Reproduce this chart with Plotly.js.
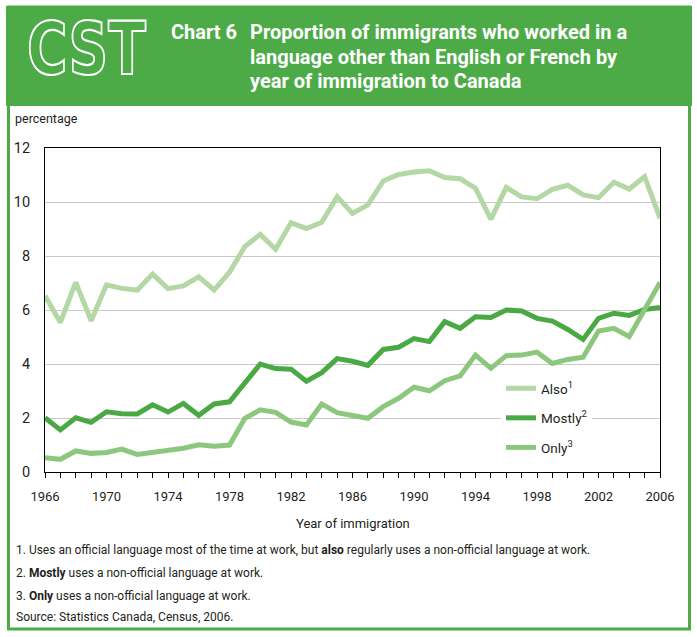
<!DOCTYPE html>
<html>
<head>
<meta charset="utf-8">
<script src="https://cdn.plot.ly/plotly-3.0.1.min.js"></script>
<style>
  html, body { margin: 0; padding: 0; background: #fff; }
  #wrap { position: relative; width: 697px; height: 637px; }
  #chart { position: absolute; left: 0; top: 0; width: 697px; height: 637px; }
  #logo { position: absolute; left: 20px; top: 10px; pointer-events: none; overflow: visible; }
</style>
</head>
<body>
<div id="wrap">
  <div id="chart"></div>
  <svg id="logo" width="135" height="75">
    <text transform="translate(7,64) scale(0.755,1)" x="0" y="0" font-family="DejaVu Sans" font-weight="bold" font-size="73"
          fill="none" stroke="#ffffff" stroke-width="2.2">CST</text>
  </svg>
</div>
<script>
// ---- data ----
const years = [1966,1967,1968,1969,1970,1971,1972,1973,1974,1975,1976,1977,1978,1979,1980,1981,1982,1983,1984,1985,1986,1987,1988,1989,1990,1991,1992,1993,1994,1995,1996,1997,1998,1999,2000,2001,2002,2003,2004,2005,2006];
const alsoVals = [6.53,5.54,7.02,5.60,6.93,6.80,6.74,7.33,6.79,6.89,7.23,6.74,7.40,8.35,8.80,8.25,9.23,9.02,9.25,10.20,9.58,9.89,10.78,11.02,11.11,11.16,10.91,10.86,10.51,9.36,10.54,10.19,10.12,10.47,10.62,10.26,10.16,10.73,10.48,10.94,9.40];
const mostlyVals = [2.01,1.56,2.01,1.84,2.23,2.16,2.15,2.49,2.22,2.54,2.10,2.52,2.60,3.28,4.00,3.83,3.81,3.36,3.68,4.20,4.10,3.95,4.54,4.62,4.94,4.83,5.57,5.32,5.75,5.72,6.00,5.96,5.69,5.59,5.28,4.91,5.69,5.88,5.80,6.02,6.09];
const onlyVals = [0.53,0.47,0.78,0.69,0.72,0.85,0.65,0.73,0.81,0.88,1.01,0.95,1.00,1.99,2.30,2.21,1.85,1.74,2.52,2.20,2.09,1.99,2.42,2.73,3.14,3.01,3.38,3.56,4.33,3.84,4.31,4.33,4.44,4.02,4.17,4.25,5.22,5.32,5.01,6.00,7.02];
const seriesNames = ["Also<sup>1</sup>", "Mostly<sup>2</sup>", "Only<sup>3</sup>"];
const xTickVals = [1966,1970,1974,1978,1982,1986,1990,1994,1998,2002,2006];
const yTickVals = [0,2,4,6,8,10,12];

const chartLabel = "Chart 6";
const titleLines = ["Proportion of immigrants who worked in a", "language other than English or French by", "year of immigration to Canada"];
const footnotes = [
  "1. Uses an official language most of the time at work, but <b>also</b> regularly uses a non-official language at work.",
  "2. <b>Mostly</b> uses a non-official language at work.",
  "3. <b>Only</b> uses a non-official language at work.",
  "Source: Statistics Canada, Census, 2006."
];

// ---- style ----
const FONT = 'Roboto, "Liberation Sans", sans-serif';
const GREEN = '#4cab47';
const cAlso = '#b3d8a5', cMostly = '#4aa944', cOnly = '#8dc77d';
const TXT = '#231f20';

// plot area in pixels
const L = 45, R = 660, T = 148, B = 472;
const px = v => (v - L) / (R - L);
const py = v => (B - v) / (B - T);

const traces = [
  {x: years, y: alsoVals, name: seriesNames[0], legendgroup: 'a', line: {color: cAlso, width: 5}},
  {x: years, y: mostlyVals, name: seriesNames[1], legendgroup: 'b', line: {color: cMostly, width: 5}},
  {x: years, y: onlyVals, name: seriesNames[2], legendgroup: 'c', line: {color: cOnly, width: 5}}
].map(t => Object.assign({type: 'scatter', mode: 'lines', hoverinfo: 'skip'}, t));

const ann = [];
ann.push({text: '<b>' + chartLabel + '</b>', x: px(169), y: py(32), xref: 'paper', yref: 'paper', xanchor: 'left', yanchor: 'middle', showarrow: false, font: {family: FONT, size: 20, color: '#fff'}});
const tY = [32, 57, 81];
titleLines.forEach((t, i) => ann.push({text: '<b>' + t + '</b>', x: px(248), y: py(tY[i]), xref: 'paper', yref: 'paper', xanchor: 'left', yanchor: 'middle', showarrow: false, font: {family: FONT, size: 20, color: '#fff'}}));
ann.push({text: 'percentage', x: px(13), y: py(118), xref: 'paper', yref: 'paper', xanchor: 'left', yanchor: 'middle', showarrow: false, font: {family: FONT, size: 12.5, color: TXT}});
ann.push({text: 'Year of immigration', x: px(353), y: py(523), xref: 'paper', yref: 'paper', xanchor: 'center', yanchor: 'middle', showarrow: false, font: {family: FONT, size: 13, color: TXT}});
const fY = [550, 573, 596, 617];
footnotes.forEach((t, i) => ann.push({text: t, x: px(14), y: py(fY[i]), xref: 'paper', yref: 'paper', xanchor: 'left', yanchor: 'middle', showarrow: false, font: {family: FONT, size: 12, color: TXT}}));

const shapes = [
  {type: 'rect', xref: 'paper', yref: 'paper', x0: px(6), x1: px(692), y0: py(6), y1: py(106), fillcolor: GREEN, line: {width: 0}, layer: 'below'},
  {type: 'rect', xref: 'paper', yref: 'paper', x0: px(8.5), x1: px(689.5), y0: py(7), y1: py(629), fillcolor: 'rgba(0,0,0,0)', line: {color: GREEN, width: 3}, layer: 'below'}
];

const layout = {
  width: 697, height: 637,
  margin: {l: L, r: 697 - R, t: T, b: 637 - B, pad: 0},
  paper_bgcolor: '#fff', plot_bgcolor: '#fff',
  font: {family: FONT, color: TXT},
  showlegend: true,
  legend: {
    x: px(501), y: py(373), xanchor: 'left', yanchor: 'top',
    bgcolor: '#fff', borderwidth: 0, tracegroupgap: 9,
    font: {family: FONT, size: 13.5, color: TXT}
  },
  xaxis: {
    range: [1966, 2006], tickvals: xTickVals, ticktext: xTickVals.map(String),
    ticks: 'outside', ticklen: 5, tickwidth: 1, tickcolor: '#000',
    minor: {tickvals: years, ticks: 'outside', ticklen: 5, tickwidth: 1, tickcolor: '#000', showgrid: false},
    showline: true, linecolor: '#000', linewidth: 1, mirror: true,
    showgrid: false, zeroline: false,
    tickfont: {family: FONT, size: 13, color: TXT}, ticklabelstandoff: 7
  },
  yaxis: {
    range: [0, 12], tickvals: yTickVals, ticks: '',
    showline: true, linecolor: '#000', linewidth: 1, mirror: true,
    showgrid: true, gridcolor: '#c8c8c8', gridwidth: 1, zeroline: false,
    tickfont: {family: FONT, size: 14.5, color: TXT}, ticklabelstandoff: 11
  },
  annotations: ann,
  shapes: shapes
};

Plotly.newPlot('chart', traces, layout, {staticPlot: true, displayModeBar: false});
</script>
</body>
</html>
